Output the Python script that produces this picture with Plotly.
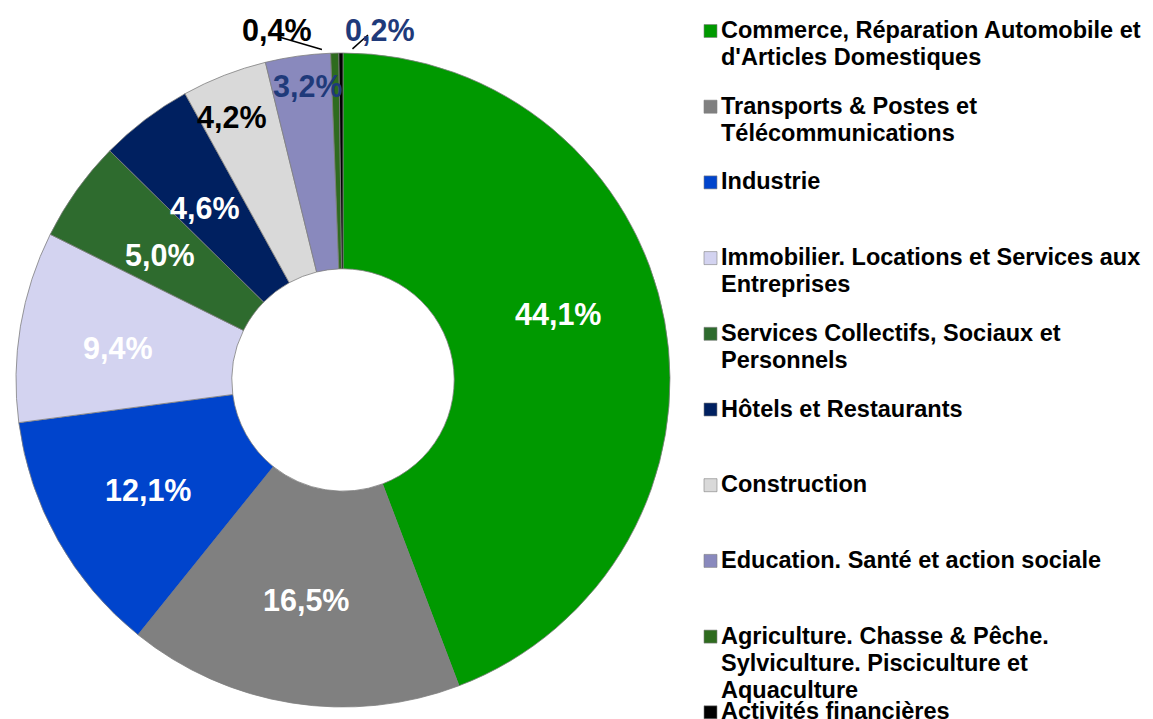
import math
import plotly.graph_objects as go

# ---- data ----
categories = [
    "Commerce, Réparation Automobile et\nd'Articles Domestiques",
    "Transports & Postes et\nTélécommunications",
    "Industrie",
    "Immobilier. Locations et Services aux\nEntreprises",
    "Services Collectifs, Sociaux et\nPersonnels",
    "Hôtels et Restaurants",
    "Construction",
    "Education. Santé et action sociale",
    "Agriculture. Chasse & Pêche.\nSylviculture. Pisciculture et\nAquaculture",
    "Activités financières",
]
shares = [44.1, 16.5, 12.1, 9.4, 5.0, 4.6, 4.2, 3.2, 0.4, 0.2]
pct_labels = ["44,1%", "16,5%", "12,1%", "9,4%", "5,0%", "4,6%", "4,2%", "3,2%", "0,4%", "0,2%"]

# ---- styles ----
colors = ["#009900", "#808080", "#0044CC", "#D3D3F0", "#2E6B2E",
          "#002060", "#D9D9D9", "#8989BD", "#2E6B1E", "#000000"]
label_colors = ["white", "white", "white", "white", "white", "white",
                "black", "#1F3A7A", "black", "#1F3A7A"]
label_r = [0.688, 0.682, 0.685, 0.695, 0.678, 0.674, 0.872, 0.905, 1.089, 1.076]
label_dang = [-6.8, 0.4, -0.2, -1.3, -1.3, -1.7, -1.5, 1.2, -9.2, 6.4]
# leader lines for outside labels: (index, start angle offset, end angle offset, start r, end r)
leaders = [(8, -2.2, -9.1, 1.013, 1.067), (9, 2.0, 4.5, 1.013, 1.058)]

W, H = 1153, 719
CX, CY, R = 343.0, 380.0, 327.0
HOLE = 0.34
FONT = "Liberation Sans, Arial, sans-serif"


def px(x):
    return x / W


def py(y):
    return 1 - y / H


fig = go.Figure(go.Pie(
    labels=[c.replace("\n", " ") for c in categories],
    values=shares,
    sort=False,
    direction="clockwise",
    rotation=0,
    hole=HOLE,
    textinfo="none",
    hoverinfo="label+percent",
    marker=dict(colors=colors, line=dict(color="#7F7F7F", width=0.8)),
    domain=dict(x=[px(CX - R), px(CX + R)], y=[py(CY + R), py(CY - R)]),
    showlegend=False,
))

total = sum(shares)
annotations = []
shapes = []
cum = 0.0
mids = []
for v in shares:
    mids.append((cum + v / 2) / total * 360.0)
    cum += v


def polar(r_frac, ang):
    a = math.radians(ang)
    return CX + R * r_frac * math.sin(a), CY - R * r_frac * math.cos(a)


for i, lab in enumerate(pct_labels):
    x, y = polar(label_r[i], mids[i] + label_dang[i])
    annotations.append(dict(
        x=px(x), y=py(y), xref="paper", yref="paper", text="<b>" + lab + "</b>",
        showarrow=False, xanchor="center", yanchor="middle",
        font=dict(family=FONT, size=30.5, color=label_colors[i]),
    ))

for idx, a1, a2, r1, r2 in leaders:
    x0, y0 = polar(r1, mids[idx] + a1)
    x1, y1 = polar(r2, mids[idx] + a2)
    shapes.append(dict(type="line", xref="paper", yref="paper",
                       x0=px(x0), y0=py(y0), x1=px(x1), y1=py(y1),
                       line=dict(color="black", width=1.5)))

# ---- legend (manual, fixed slot height) ----
LEG_X_SQ, LEG_SQ, LEG_X_TXT = 704, 13, 719
LEG_TOP, LEG_SLOT, LEG_LINE = 30, 75.7, 27
for i, cat in enumerate(categories):
    y0 = LEG_TOP + i * LEG_SLOT
    shapes.append(dict(type="rect", xref="paper", yref="paper",
                       x0=px(LEG_X_SQ), x1=px(LEG_X_SQ + LEG_SQ),
                       y0=py(y0 + 1 - LEG_SQ / 2), y1=py(y0 + 1 + LEG_SQ / 2),
                       fillcolor=colors[i], line=dict(color="#808080", width=0.6)))
    for k, line in enumerate(cat.split("\n")):
        annotations.append(dict(
            x=px(LEG_X_TXT), y=py(y0 + k * LEG_LINE), xref="paper", yref="paper",
            text="<b>" + line + "</b>", showarrow=False,
            xanchor="left", yanchor="middle",
            font=dict(family=FONT, size=23.5, color="black"),
        ))

fig.update_layout(
    width=W, height=H,
    margin=dict(l=0, r=0, t=0, b=0),
    paper_bgcolor="white", plot_bgcolor="white",
    annotations=annotations, shapes=shapes,
    font=dict(family=FONT),
)

fig.write_html("out.html", config={"displayModeBar": False},
               post_script="document.body.style.margin='0';")
